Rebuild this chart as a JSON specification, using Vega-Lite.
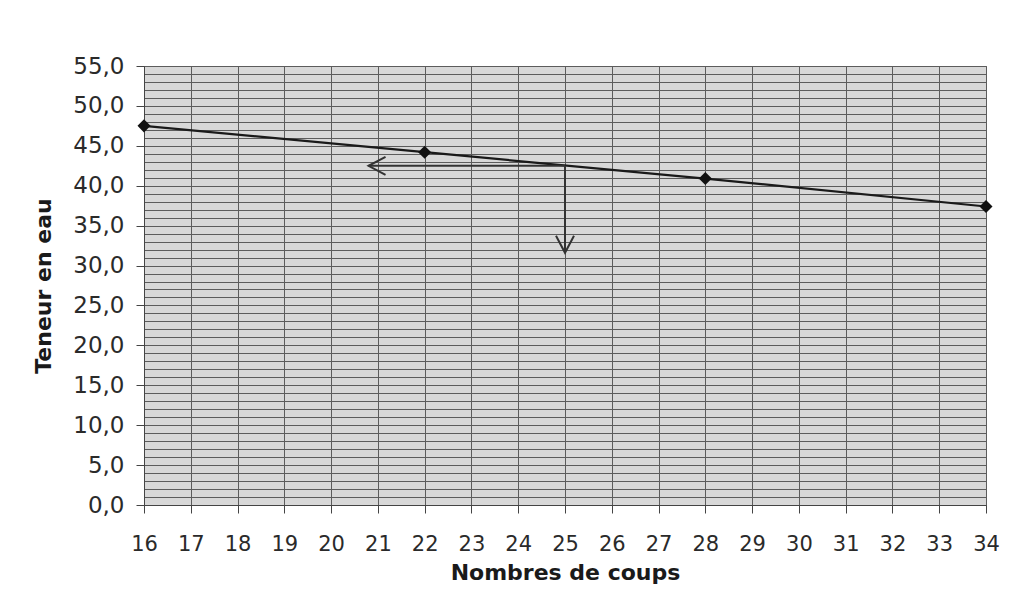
{
  "$schema": "https://vega.github.io/schema/vega-lite/v6.json",
  "autosize": "none",
  "width": 842,
  "height": 439,
  "padding": {"left": 144, "top": 66, "right": 27, "bottom": 104},
  "background": "white",
  "config": {
    "view": {"fill": "#d8d8d8", "stroke": "#555555", "strokeWidth": 1},
    "font": "DejaVu Sans",
    "axis": {"labelFont": "DejaVu Sans", "titleFont": "DejaVu Sans", "labelColor": "#2a2a2a", "titleColor": "#1a1a1a", "domainColor": "#444444", "tickColor": "#444444", "gridColor": "#5c5c5c", "gridOpacity": 1, "gridWidth": 1}
  },
  "datasets": {
    "points": [
      {"coups": 16, "teneur": 47.5},
      {"coups": 22, "teneur": 44.2},
      {"coups": 28, "teneur": 40.9},
      {"coups": 34, "teneur": 37.4}
    ],
    "arrows": [
      {"coups": 25, "teneur": 42.5, "coups_end": 20.8, "teneur_end": 42.5, "dir": "left"},
      {"coups": 25, "teneur": 42.5, "coups_end": 25, "teneur_end": 31.6, "dir": "down"}
    ]
  },
  "encoding": {
    "x": {
      "field": "coups", "type": "quantitative",
      "scale": {"domain": [16, 34], "nice": false, "zero": false},
      "axis": {
        "title": "Nombres de coups",
        "values": [16,17,18,19,20,21,22,23,24,25,26,27,28,29,30,31,32,33,34],
        "labelFontSize": 21, "labelPadding": 20, "tickSize": 8,
        "labelFlush": false, "labelBound": false,
        "titleFontSize": 22, "titleFontWeight": "bold", "titlePadding": 8,
        "labelOverlap": false, "grid": true, "domain": true
      }
    },
    "y": {
      "field": "teneur", "type": "quantitative",
      "scale": {"domain": [0, 55], "nice": false},
      "axis": {
        "title": "Teneur en eau",
        "values": [0,1,2,3,4,5,6,7,8,9,10,11,12,13,14,15,16,17,18,19,20,21,22,23,24,25,26,27,28,29,30,31,32,33,34,35,36,37,38,39,40,41,42,43,44,45,46,47,48,49,50,51,52,53,54,55],
        "labelExpr": "datum.value % 5 === 0 ? replace(format(datum.value, '.1f'), '.', ',') : ''",
        "tickOpacity": {"condition": {"test": "datum.value % 5 === 0", "value": 1}, "value": 0},
        "labelFontSize": 23, "labelPadding": 12, "tickSize": 8,
        "labelFlush": false,
        "titleFontSize": 22, "titleFontWeight": "bold", "titlePadding": 17,
        "labelOverlap": false, "grid": true
      }
    }
  },
  "layer": [
    {
      "data": {"name": "points"},
      "mark": {"type": "line", "color": "#1a1a1a", "strokeWidth": 2.2},
      "encoding": {}
    },
    {
      "data": {"name": "points"},
      "mark": {"type": "point", "shape": "diamond", "filled": true, "color": "#111111", "size": 170, "opacity": 1},
      "encoding": {}
    },
    {
      "data": {"name": "arrows"},
      "mark": {"type": "rule", "color": "#333333", "strokeWidth": 2},
      "encoding": {
        "x2": {"field": "coups_end"},
        "y2": {"field": "teneur_end"}
      }
    },
    {
      "data": {"name": "arrows"},
      "mark": {"type": "point", "filled": false, "color": "#333333", "strokeWidth": 2, "size": 400, "opacity": 1},
      "encoding": {
        "x": {"field": "coups_end", "type": "quantitative"},
        "y": {"field": "teneur_end", "type": "quantitative"},
        "shape": {
          "field": "dir", "type": "nominal",
          "scale": {"domain": ["left", "down"], "range": ["M1.7,-0.9L0,0L1.7,0.9", "M-0.9,-1.7L0,0L0.9,-1.7"]},
          "legend": null
        }
      }
    }
  ]
}
